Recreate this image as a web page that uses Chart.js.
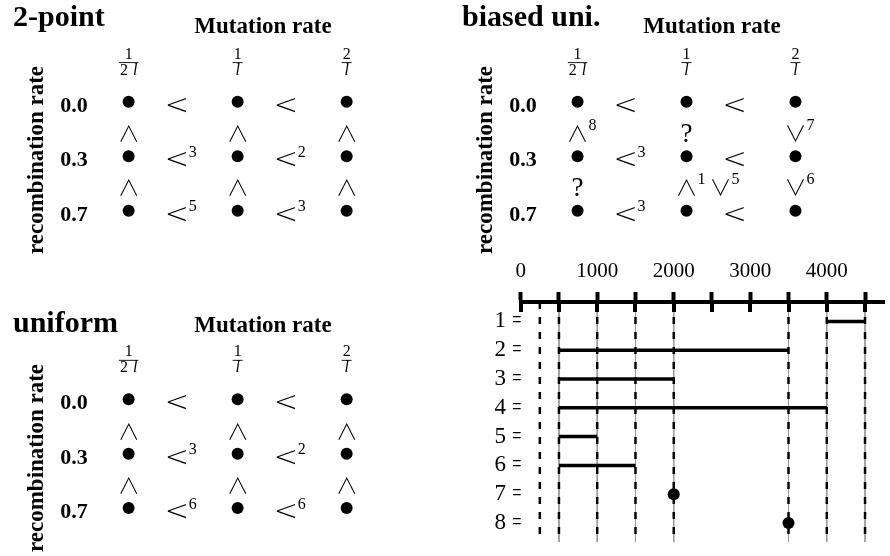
<!DOCTYPE html>
<html>
<head>
<meta charset="utf-8">
<script src="https://cdn.jsdelivr.net/npm/chart.js@4.4.1/dist/chart.umd.min.js"></script>
<style>
  body { margin: 0; background: #fff; }
  #wrap { position: relative; width: 890px; height: 556px; }
  canvas { position: absolute; }
</style>
</head>
<body>
<div id="wrap">
  <canvas id="twoPoint" width="449" height="278" style="left:0;top:0"></canvas>
  <canvas id="biased" width="441" height="278" style="left:449px;top:0"></canvas>
  <canvas id="uniform" width="449" height="258" style="left:0;top:298px"></canvas>
  <canvas id="lengths" width="420" height="306" style="left:470px;top:250px"></canvas>
</div>
<script>
// matrix panels: columns = mutation rate, rows = recombination rate
const mutationNum = ["1", "1", "2"];
const mutationDen = ["2 l", "l", "l"];
const recombRates = ["0.0", "0.3", "0.7"];

// relation between neighbouring columns (per row) and rows (per column), "^n" = superscript
const twoPointH = [["<", "<"], ["<^3", "<^2"], ["<^5", "<^3"]];
const twoPointV = [["∧", "∧", "∧"], ["∧", "∧", "∧"]];
const biasedH = [["<", "<"], ["<^3", "<"], ["<^3", "<"]];
const biasedV = [["∧^8", "?", "∨^7"], ["?", "∧^1∨^5", "∨^6"]];
const uniformH = [["<", "<"], ["<^3", "<^2"], ["<^6", "<^6"]];
const uniformV = [["∧", "∧", "∧"], ["∧", "∧", "∧"]];

// interval panel
const axisTicks = [0, 500, 1000, 1500, 2000, 2500, 3000, 3500, 4000, 4500];
const markers = [250, 500, 1000, 1500, 2000, 3500, 4000, 4500];
const rowIds = [1, 2, 3, 4, 5, 6, 7, 8];
const rangeStart = [4000, 500, 500, 500, 500, 500, 2000, 3500];
const rangeEnd = [4500, 3500, 2000, 4000, 1000, 1500, 2000, 3500];

const SERIF = '"Liberation Serif", "Times New Roman", serif';
const X0 = 126, DX = 112, Y0 = 100, DY = 57;

function drawRel(ctx, str, cx, cy) {
  const tokens = [...str.matchAll(/([^\^\d])(?:\^(\d+))?/g)];
  let x = null;
  tokens.forEach(([, sym, sup]) => {
    if (sym === "?") ctx.font = "27px " + SERIF;
    else if (sym === "<") ctx.font = '200 29px "DejaVu Sans"';
    else ctx.font = '300 22px "Noto Sans CJK JP", "DejaVu Sans"';
    ctx.textAlign = "left";
    ctx.textBaseline = "alphabetic";
    const m = ctx.measureText(sym);
    if (x === null) x = cx - (m.actualBoundingBoxRight - m.actualBoundingBoxLeft) / 2;
    const y = cy + (m.actualBoundingBoxAscent - m.actualBoundingBoxDescent) / 2;
    ctx.fillText(sym, x, y);
    x += m.actualBoundingBoxRight + 2;
    if (sup) {
      ctx.font = "16px " + SERIF;
      ctx.fillText(sup, x, cy - 3);
      x += ctx.measureText(sup).width + 4;
    }
  });
}

function drawFrac(ctx, num, den, cx, top) {
  ctx.textAlign = "left";
  ctx.textBaseline = "alphabetic";
  ctx.font = "16px " + SERIF;
  const nw = ctx.measureText(num).width;
  const parts = den.split(" ");
  const fonts = parts.map((p) => (p === "l" ? "italic 16px " : "16px ") + SERIF);
  const widths = parts.map((p, i) => { ctx.font = fonts[i]; return ctx.measureText(p).width; });
  const gap = 5;
  const dw = widths.reduce((a, b) => a + b, 0) + gap * (parts.length - 1);
  const bw = Math.max(nw, dw) + 2;
  ctx.font = "16px " + SERIF;
  ctx.fillText(num, cx - nw / 2, top + 57);
  ctx.fillRect(cx - bw / 2, top + 60.5, bw, 0.9);
  let x = cx - dw / 2;
  parts.forEach((p, i) => {
    ctx.font = fonts[i];
    ctx.fillText(p, x, top + 73);
    x += widths[i] + gap;
  });
}

function matrixChart(id, title, titleY, labelY, hRel, vRel) {
  const canvas = document.getElementById(id);
  const W = canvas.width, H = canvas.height;
  const cells = recombRates.flatMap((_, r) => mutationNum.map((_, c) => ({ x: c, y: r })));

  const labels = {
    id: "labels",
    afterDraw(chart) {
      const ctx = chart.ctx;
      const fx = (v) => chart.scales.x.getPixelForValue(v);
      const fy = (v) => chart.scales.y.getPixelForValue(v);
      ctx.save();
      ctx.fillStyle = "#000";
      ctx.textBaseline = "alphabetic";

      ctx.font = "bold 30px " + SERIF;
      ctx.textAlign = "left";
      ctx.fillText(title, 13, titleY);

      ctx.font = "bold 23px " + SERIF;
      ctx.textAlign = "center";
      ctx.fillText("Mutation rate", 263, labelY);

      ctx.save();
      ctx.translate(43, 160);
      ctx.rotate(-Math.PI / 2);
      ctx.fillText("recombination rate", 0, 0);
      ctx.restore();

      ctx.font = "bold 22px " + SERIF;
      recombRates.forEach((lab, r) => ctx.fillText(lab, 74, fy(r) + 10));

      mutationNum.forEach((n, c) => drawFrac(ctx, n, mutationDen[c], fx(c), fy(0) - Y0));

      hRel.forEach((row, r) =>
        row.forEach((rel, g) => drawRel(ctx, rel, (fx(g) + fx(g + 1)) / 2 - 6, fy(r) + 3.5))
      );
      vRel.forEach((gap, r) =>
        gap.forEach((rel, c) => drawRel(ctx, rel, fx(c), (fy(r) + fy(r + 1)) / 2 + 4))
      );
      ctx.restore();
    },
  };

  return new Chart(canvas, {
    type: "scatter",
    data: {
      datasets: [
        {
          data: cells,
          pointRadius: 6,
          pointBackgroundColor: "#000",
          pointBorderWidth: 0,
        },
      ],
    },
    options: {
      responsive: false,
      animation: false,
      devicePixelRatio: 1,
      layout: { padding: 0 },
      plugins: { legend: { display: false }, tooltip: { enabled: false } },
      scales: {
        x: { display: false, min: -X0 / DX, max: (W - X0) / DX },
        y: { display: false, reverse: true, min: -Y0 / DY, max: (H - Y0) / DY },
      },
    },
    plugins: [labels],
  });
}

matrixChart("twoPoint", "2-point", 26, 33, twoPointH, twoPointV);
matrixChart("biased", "biased uni.", 26, 33, biasedH, biasedV);
matrixChart("uniform", "uniform", 34, 34, uniformH, uniformV);

// interval chart
const Y_MIN = 0.325, Y_MAX = 8.66;
const vline = (v) => [{ x: v, y: Y_MIN }, { x: v, y: Y_MAX }];
const endpoints = [...new Set([...rangeStart, ...rangeEnd])];

const segments = rowIds
  .map((r, i) => ({ r, i }))
  .filter(({ i }) => rangeStart[i] !== rangeEnd[i])
  .map(({ r, i }) => ({
    type: "line",
    data: [{ x: rangeStart[i], y: r }, { x: rangeEnd[i], y: r }],
    borderColor: "#000",
    borderWidth: 3.5,
    pointRadius: 0,
    order: 1,
  }));

const dots = {
  type: "scatter",
  data: rowIds
    .map((r, i) => ({ x: rangeStart[i], y: r }))
    .filter((p, i) => rangeStart[i] === rangeEnd[i]),
  pointRadius: 6,
  pointBackgroundColor: "#000",
  pointBorderWidth: 0,
  order: 0,
};

const dashed = markers.map((v) => ({
  type: "line",
  data: vline(v),
  borderColor: "#000",
  borderWidth: 2.5,
  borderDash: [7, 8],
  pointRadius: 0,
  order: 2,
}));

const guides = endpoints.map((v) => ({
  type: "line",
  data: vline(v),
  borderColor: "#999",
  borderWidth: 1,
  pointRadius: 0,
  order: 3,
}));

const tickBelow = {
  id: "tickBelow",
  afterDraw(chart) {
    const xs = chart.scales.x;
    const top = chart.chartArea.top;
    const ctx = chart.ctx;
    ctx.save();
    ctx.strokeStyle = "#000";
    ctx.lineWidth = 4;
    xs.ticks.forEach((t) => {
      const px = Math.round(xs.getPixelForValue(t.value));
      ctx.beginPath();
      ctx.moveTo(px, top);
      ctx.lineTo(px, top + 10);
      ctx.stroke();
    });
    ctx.restore();
  },
};

new Chart(document.getElementById("lengths"), {
  type: "line",
  data: { datasets: [dots, ...segments, ...dashed, ...guides] },
  options: {
    responsive: false,
    animation: false,
    devicePixelRatio: 1,
    layout: { padding: { left: 0, right: 5, top: 0, bottom: 14 } },
    plugins: { legend: { display: false }, tooltip: { enabled: false } },
    scales: {
      x: {
        type: "linear",
        position: "top",
        min: 0,
        max: 4748,
        afterBuildTicks: (s) => { s.ticks = axisTicks.map((v) => ({ value: v })); },
        afterFit: (s) => { s.height = 52; },
        ticks: {
          callback: (v) => (v % 1000 === 0 ? String(v) : ""),
          font: { family: SERIF, size: 21 },
          color: "#000",
          padding: 8,
          maxRotation: 0,
          autoSkip: false,
        },
        grid: { drawOnChartArea: false, drawTicks: true, tickLength: 10, tickWidth: 4, tickColor: "#000" },
        border: { display: true, width: 4, color: "#000" },
      },
      y: {
        type: "linear",
        reverse: true,
        min: Y_MIN,
        max: Y_MAX,
        afterBuildTicks: (s) => { s.ticks = rowIds.map((v) => ({ value: v })); },
        afterFit: (s) => { s.width = 50.7; },
        ticks: {
          callback: (v) => v + " =",
          font: { family: SERIF, size: 23 },
          color: "#000",
          padding: -4,
        },
        grid: { display: false, drawTicks: false },
        border: { display: false },
      },
    },
  },
  plugins: [tickBelow],
});
</script>
</body>
</html>
